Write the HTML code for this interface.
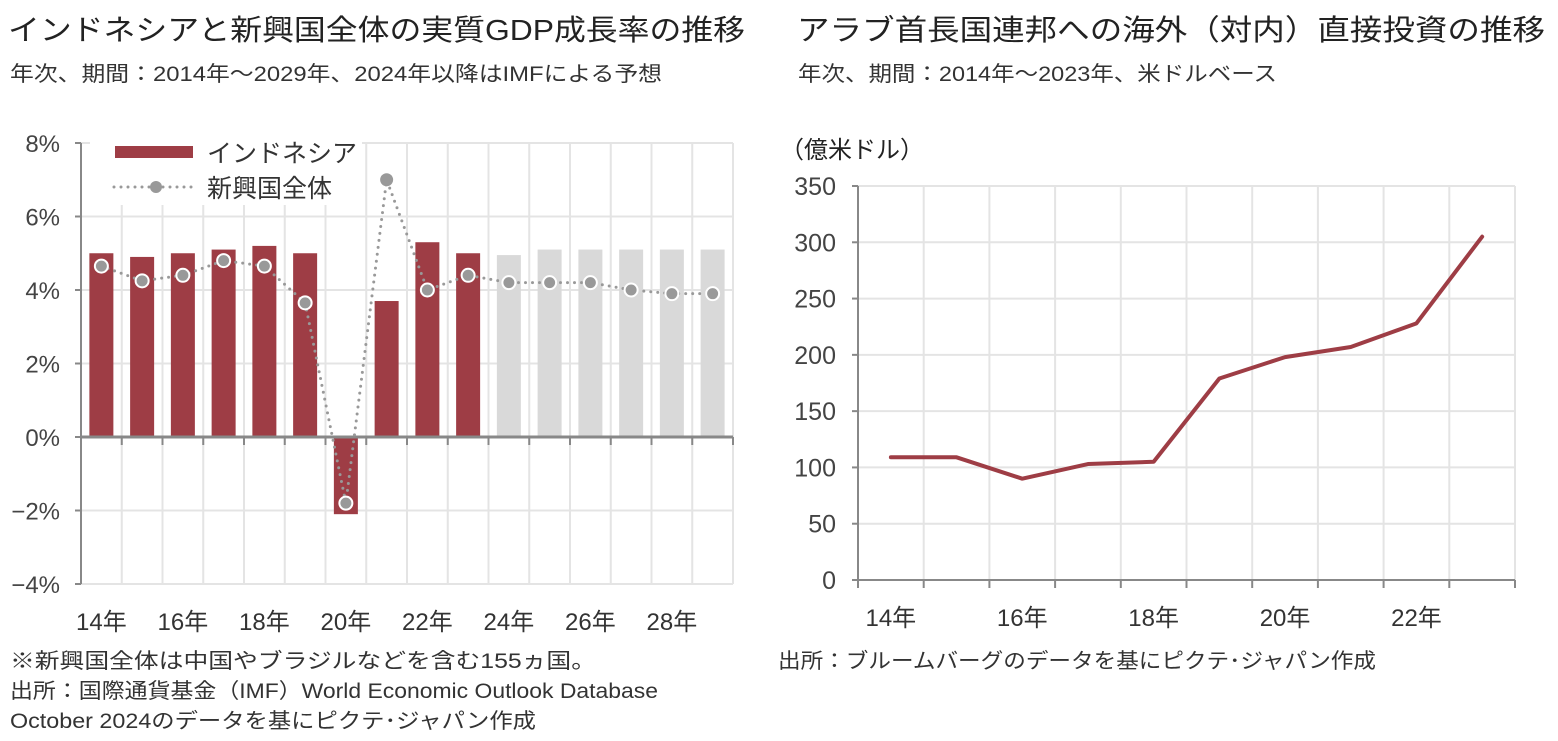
<!DOCTYPE html>
<html><head><meta charset="utf-8"><style>
body{margin:0;background:#fff;}
svg{display:block;font-family:"Liberation Sans Narrow","Liberation Sans","Noto Sans CJK JP",sans-serif;}
</style></head><body>
<svg id="c" width="1558" height="741" viewBox="0 0 1558 741">
<g font-family="Liberation Sans,Noto Sans CJK JP,sans-serif" lengthAdjust="spacingAndGlyphs">
<text x="8" y="40" font-size="29" fill="#222" textLength="737" lengthAdjust="spacingAndGlyphs">インドネシアと新興国全体の実質GDP成長率の推移</text>
<text x="10" y="81" font-size="21" fill="#333" textLength="652" lengthAdjust="spacingAndGlyphs">年次、期間：2014年～2029年、2024年以降はIMFによる予想</text>
<text x="797" y="40" font-size="29" fill="#222" textLength="748" lengthAdjust="spacingAndGlyphs">アラブ首長国連邦への海外（対内）直接投資の推移</text>
<text x="798" y="81" font-size="21" fill="#333" textLength="479" lengthAdjust="spacingAndGlyphs">年次、期間：2014年～2023年、米ドルベース</text>
<text x="10" y="668" font-size="21" fill="#333" textLength="586" lengthAdjust="spacingAndGlyphs">※新興国全体は中国やブラジルなどを含む155ヵ国。</text>
<text x="10" y="698" font-size="21" fill="#333" textLength="648" lengthAdjust="spacingAndGlyphs">出所：国際通貨基金（IMF）World Economic Outlook Database</text>
<text x="10" y="728" font-size="21" fill="#333" textLength="526" lengthAdjust="spacingAndGlyphs">October 2024のデータを基にピクテ･ジャパン作成</text>
<text x="778" y="668" font-size="21" fill="#333" textLength="598" lengthAdjust="spacingAndGlyphs">出所：ブルームバーグのデータを基にピクテ･ジャパン作成</text>
</g>
<g id="left"></g>
<g id="right"></g>
</svg>
<script>
const years=["14年","15年","16年","17年","18年","19年","20年","21年","22年","23年","24年","25年","26年","27年","28年","29年"];
const indo=[5.0,4.9,5.0,5.1,5.2,5.0,-2.1,3.7,5.3,5.0,4.95,5.1,5.1,5.1,5.1,5.1];
const em=[4.65,4.25,4.4,4.8,4.65,3.65,-1.8,7.0,4.0,4.4,4.2,4.2,4.2,4.0,3.9,3.9];
const leftTicks=[-4,-2,0,2,4,6,8];
const forecastStart=10;
const fdiYears=["14年","15年","16年","17年","18年","19年","20年","21年","22年","23年"];
const fdi=[109,109,90,103,105,179,198,207,228,305];
const rightTicks=[0,50,100,150,200,250,300,350];
const NS="http://www.w3.org/2000/svg";
function mk(p,t,a){const e=document.createElementNS(NS,t);for(const k in a)e.setAttribute(k,a[k]);p.appendChild(e);return e;}
// left
const L=document.getElementById('left');
const lx0=81,lx1=733,ly=v=>437-v*36.75,cw=(lx1-lx0)/years.length,cx=i=>lx0+cw*(i+0.5);
leftTicks.forEach(t=>{const g=mk(L,'line',{x1:lx0,x2:lx1,y1:ly(t),y2:ly(t),stroke:'#e4e4e4','stroke-width':2});
const tx=mk(L,'text',{x:60,y:ly(t)+9,'font-size':24,fill:'#444','text-anchor':'end'});tx.textContent=(t<0?'−'+(-t):t)+'%';
mk(L,'line',{x1:lx0-6,x2:lx0,y1:ly(t),y2:ly(t),stroke:'#888','stroke-width':2});});
for(let i=1;i<=years.length;i++){const g=mk(L,'line',{x1:lx0+cw*i,x2:lx0+cw*i,y1:ly(8),y2:ly(-4),stroke:'#e4e4e4','stroke-width':2});}
indo.forEach((v,i)=>{const y0=ly(0),y1=ly(v);const r=mk(L,'rect',{x:cx(i)-12,y:Math.min(y0,y1),width:24,height:Math.abs(y1-y0),fill:i<forecastStart?'#9e3d45':'#d9d9d9'});});
mk(L,'line',{x1:lx0,x2:lx0,y1:ly(8),y2:ly(-4),stroke:'#888','stroke-width':2});
mk(L,'line',{x1:lx0,x2:lx1,y1:ly(0),y2:ly(0),stroke:'#888','stroke-width':3});
for(let i=0;i<=years.length;i++)mk(L,'line',{x1:lx0+cw*i,x2:lx0+cw*i,y1:ly(0),y2:ly(0)+8,stroke:'#888','stroke-width':2});
const lp=mk(L,'polyline',{points:em.map((v,i)=>cx(i)+','+ly(v)).join(' '),fill:'none',stroke:'#999','stroke-width':3,'stroke-dasharray':'0 7','stroke-linecap':'round'});

em.forEach((v,i)=>{const c=mk(L,'circle',{cx:cx(i),cy:ly(v),r:6.5,fill:'#999',stroke:i==7?'none':'#fff','stroke-width':2});});
years.forEach((y,i)=>{if(i%2)return;const t=mk(L,'text',{x:cx(i),y:630,'font-size':24,fill:'#333','text-anchor':'middle'});t.textContent=y;});
// legend
const lg=mk(L,'g',{});
mk(lg,'rect',{x:90,y:133,width:272,height:72,fill:'#fff'});
mk(lg,'rect',{x:115,y:146,width:78,height:12,fill:'#9e3d45'});
const t1=mk(lg,'text',{x:207,y:162,'font-size':25,fill:'#333'});t1.textContent='インドネシア';
mk(lg,'line',{x1:114,x2:194,y1:187,y2:187,stroke:'#999','stroke-width':3,'stroke-dasharray':'0 7','stroke-linecap':'round'});
mk(lg,'circle',{cx:156,cy:187,r:6,fill:'#999'});
const t2=mk(lg,'text',{x:207,y:197,'font-size':25,fill:'#333'});t2.textContent='新興国全体';
// right
const R=document.getElementById('right');
const rx0=858,rx1=1515,ry=v=>580-v*(394/350),rw=(rx1-rx0)/fdiYears.length,rcx=i=>rx0+rw*(i+0.5);
const u=mk(R,'text',{x:780,y:158,'font-size':24,fill:'#222'});u.textContent='（億米ドル）';
rightTicks.forEach(t=>{const g=mk(R,'line',{x1:rx0,x2:rx1,y1:ry(t),y2:ry(t),stroke:'#e4e4e4','stroke-width':2});
const tx=mk(R,'text',{x:836,y:ry(t)+9,'font-size':25,fill:'#444','text-anchor':'end'});tx.textContent=t;
mk(R,'line',{x1:rx0-6,x2:rx0,y1:ry(t),y2:ry(t),stroke:'#888','stroke-width':2});});
for(let i=1;i<=fdiYears.length;i++){mk(R,'line',{x1:rx0+rw*i,x2:rx0+rw*i,y1:ry(350),y2:ry(0),stroke:'#e4e4e4','stroke-width':2});mk(R,'line',{x1:rx0+rw*i,x2:rx0+rw*i,y1:ry(0),y2:ry(0)+8,stroke:'#888','stroke-width':2});}
mk(R,'line',{x1:rx0,x2:rx0,y1:ry(350),y2:ry(0)+8,stroke:'#888','stroke-width':2});
mk(R,'line',{x1:rx0,x2:rx1,y1:ry(0),y2:ry(0),stroke:'#888','stroke-width':2});
const rl=mk(R,'polyline',{points:fdi.map((v,i)=>rcx(i)+','+ry(v)).join(' '),fill:'none',stroke:'#9e3d45','stroke-width':4,'stroke-linejoin':'round','stroke-linecap':'round'});

fdiYears.forEach((y,i)=>{if(i%2)return;const t=mk(R,'text',{x:rcx(i),y:626,'font-size':24,fill:'#333','text-anchor':'middle'});t.textContent=y;});
</script>
</body></html>
